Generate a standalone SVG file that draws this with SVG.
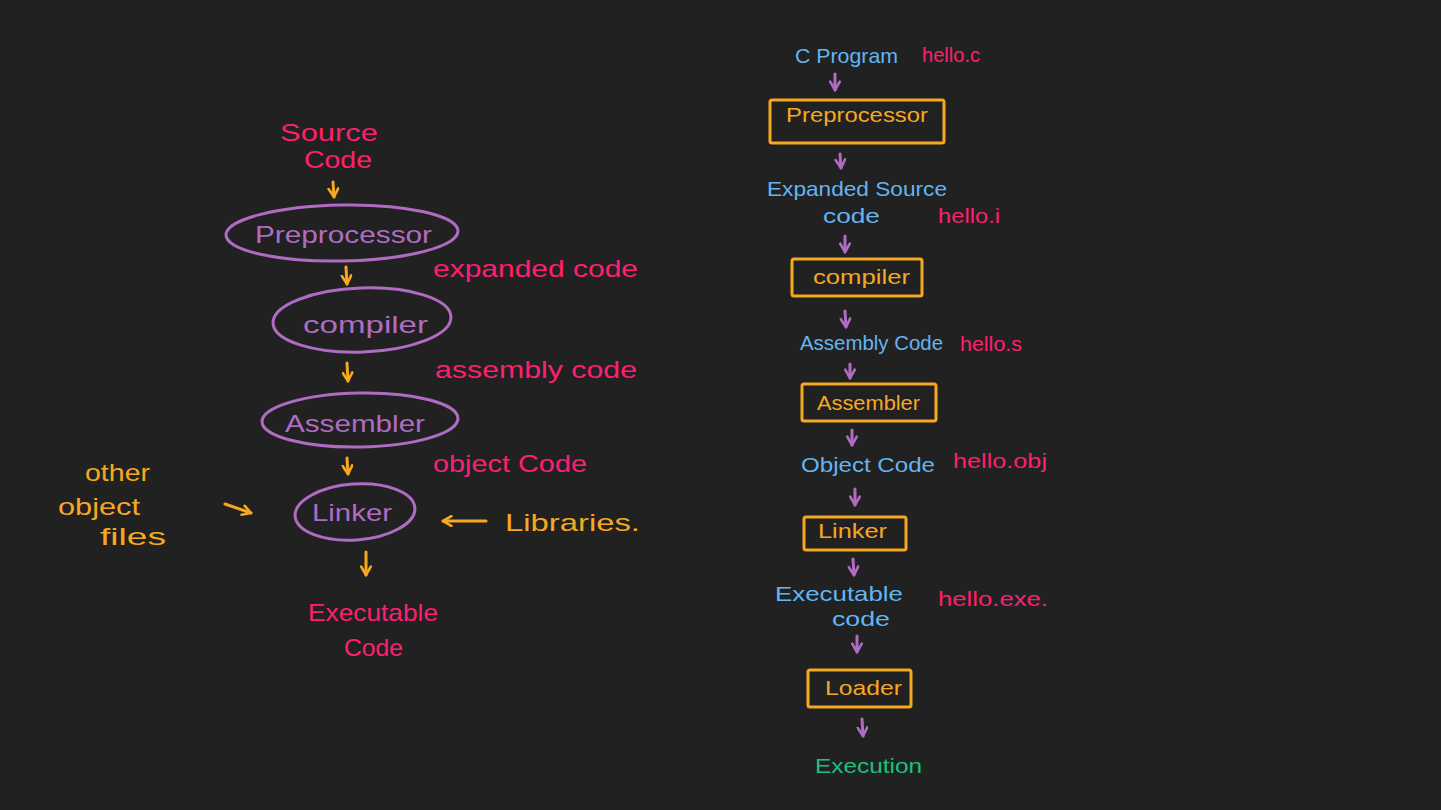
<svg xmlns="http://www.w3.org/2000/svg" width="1441" height="810" viewBox="0 0 1441 810">
<style>
text{font-family:"Liberation Sans","DejaVu Sans",sans-serif;font-size:21px;}
.big{font-size:24px;}
.pink{fill:#ff1f6f;}
.purple{fill:#b06cc2;}
.orange{fill:#f6a821;}
.blue{fill:#63b5f2;}
.green{fill:#1fc07c;}
.ell{fill:none;stroke:#b06cc2;stroke-width:3;}
.box{fill:none;stroke:#f6a821;stroke-width:3;}
.ao{fill:none;stroke:#f6a821;stroke-width:3;stroke-linecap:round;marker-end:url(#ho);}
.ap{fill:none;stroke:#b06cc2;stroke-width:3;stroke-linecap:round;marker-end:url(#hp);}
</style>
<defs>
<marker id="ho" viewBox="0 0 10 10" refX="8" refY="5" markerWidth="4" markerHeight="4" orient="auto" markerUnits="strokeWidth">
<path d="M1,1 L8,5 L1,9" fill="none" stroke="#f6a821" stroke-width="2.2" stroke-linecap="round" stroke-linejoin="round"/>
</marker>
<marker id="hp" viewBox="0 0 10 10" refX="8" refY="5" markerWidth="4" markerHeight="4" orient="auto" markerUnits="strokeWidth">
<path d="M1,1 L8,5 L1,9" fill="none" stroke="#b06cc2" stroke-width="2.2" stroke-linecap="round" stroke-linejoin="round"/>
</marker>
</defs>
<rect width="1441" height="810" fill="#212121"/>

<g id="connectors">
<path class="ao" d="M333 182 L334 197"/>
<path class="ao" d="M346 267 L347 284"/>
<path class="ao" d="M347 363 L348 381"/>
<path class="ao" d="M347 458 L348 474"/>
<path class="ao" d="M225 504 L251 513"/>
<path class="ao" d="M486 521 L443 521"/>
<path class="ao" d="M366 552 L366 575"/>
<path class="ap" d="M835 74 L835 90"/>
<path class="ap" d="M840 154 L841 168"/>
<path class="ap" d="M845 236 L845 252"/>
<path class="ap" d="M845 311 L846 327"/>
<path class="ap" d="M850 364 L850 378"/>
<path class="ap" d="M852 430 L852 445"/>
<path class="ap" d="M855 489 L855 505"/>
<path class="ap" d="M853 559 L854 575"/>
<path class="ap" d="M857 636 L857 652"/>
<path class="ap" d="M862 719 L863 736"/>
</g>

<g id="left-source">
<text class="big pink" x="280" y="141" textLength="98" lengthAdjust="spacingAndGlyphs">Source</text>
<text class="big pink" x="304" y="168" textLength="68" lengthAdjust="spacingAndGlyphs">Code</text>
</g>
<g id="left-preprocessor">
<ellipse class="ell" cx="342" cy="233" rx="116" ry="28" transform="rotate(-1 342 233)"/>
<text class="big purple" x="255" y="243" textLength="177" lengthAdjust="spacingAndGlyphs">Preprocessor</text>
</g>
<g id="left-expanded">
<text class="big pink" x="433" y="277" textLength="205" lengthAdjust="spacingAndGlyphs">expanded code</text>
</g>
<g id="left-compiler">
<ellipse class="ell" cx="362" cy="320" rx="89" ry="32" transform="rotate(-2 362 320)"/>
<text class="big purple" x="303" y="333" textLength="125" lengthAdjust="spacingAndGlyphs">compiler</text>
</g>
<g id="left-assembly">
<text class="big pink" x="435" y="378" textLength="202" lengthAdjust="spacingAndGlyphs">assembly code</text>
</g>
<g id="left-assembler">
<ellipse class="ell" cx="360" cy="420" rx="98" ry="27" transform="rotate(-1 360 420)"/>
<text class="big purple" x="285" y="432" textLength="140" lengthAdjust="spacingAndGlyphs">Assembler</text>
</g>
<g id="left-object">
<text class="big pink" x="433" y="472" textLength="154" lengthAdjust="spacingAndGlyphs">object Code</text>
</g>
<g id="left-other">
<text class="big orange" x="85" y="481" textLength="65" lengthAdjust="spacingAndGlyphs">other</text>
<text class="big orange" x="58" y="515" textLength="82" lengthAdjust="spacingAndGlyphs">object</text>
<text class="big orange" x="100" y="545" textLength="66" lengthAdjust="spacingAndGlyphs">files</text>
</g>
<g id="left-linker">
<ellipse class="ell" cx="355" cy="512" rx="60" ry="28" transform="rotate(-4 355 512)"/>
<text class="big purple" x="312" y="521" textLength="80" lengthAdjust="spacingAndGlyphs">Linker</text>
</g>
<g id="left-libraries">
<text class="big orange" x="505" y="531" textLength="135" lengthAdjust="spacingAndGlyphs">Libraries.</text>
</g>
<g id="left-executable">
<text class="big pink" x="308" y="621" textLength="130" lengthAdjust="spacingAndGlyphs">Executable</text>
<text class="big pink" x="344" y="656" textLength="59" lengthAdjust="spacingAndGlyphs">Code</text>
</g>

<g id="right-cprogram">
<text class="blue" x="795" y="63" textLength="103" lengthAdjust="spacingAndGlyphs">C Program</text>
<text class="pink" x="922" y="62" textLength="58" lengthAdjust="spacingAndGlyphs">hello.c</text>
</g>
<g id="right-preprocessor">
<rect class="box" x="770" y="100" width="174" height="43" rx="2"/>
<text class="orange" x="786" y="122" textLength="142" lengthAdjust="spacingAndGlyphs">Preprocessor</text>
</g>
<g id="right-expanded">
<text class="blue" x="767" y="196" textLength="180" lengthAdjust="spacingAndGlyphs">Expanded Source</text>
<text class="blue" x="823" y="223" textLength="57" lengthAdjust="spacingAndGlyphs">code</text>
<text class="pink" x="938" y="223" textLength="62" lengthAdjust="spacingAndGlyphs">hello.i</text>
</g>
<g id="right-compiler">
<rect class="box" x="792" y="259" width="130" height="37" rx="2"/>
<text class="orange" x="813" y="284" textLength="97" lengthAdjust="spacingAndGlyphs">compiler</text>
</g>
<g id="right-assembly">
<text class="blue" x="800" y="350" textLength="143" lengthAdjust="spacingAndGlyphs">Assembly Code</text>
<text class="pink" x="960" y="351" textLength="62" lengthAdjust="spacingAndGlyphs">hello.s</text>
</g>
<g id="right-assembler">
<rect class="box" x="802" y="384" width="134" height="37" rx="2"/>
<text class="orange" x="817" y="410" textLength="103" lengthAdjust="spacingAndGlyphs">Assembler</text>
</g>
<g id="right-object">
<text class="blue" x="801" y="472" textLength="134" lengthAdjust="spacingAndGlyphs">Object Code</text>
<text class="pink" x="953" y="468" textLength="94" lengthAdjust="spacingAndGlyphs">hello.obj</text>
</g>
<g id="right-linker">
<rect class="box" x="804" y="517" width="102" height="33" rx="2"/>
<text class="orange" x="818" y="538" textLength="69" lengthAdjust="spacingAndGlyphs">Linker</text>
</g>
<g id="right-executable">
<text class="blue" x="775" y="601" textLength="128" lengthAdjust="spacingAndGlyphs">Executable</text>
<text class="blue" x="832" y="626" textLength="58" lengthAdjust="spacingAndGlyphs">code</text>
<text class="pink" x="938" y="606" textLength="110" lengthAdjust="spacingAndGlyphs">hello.exe.</text>
</g>
<g id="right-loader">
<rect class="box" x="808" y="670" width="103" height="37" rx="2"/>
<text class="orange" x="825" y="695" textLength="77" lengthAdjust="spacingAndGlyphs">Loader</text>
</g>
<g id="right-execution">
<text class="green" x="815" y="773" textLength="107" lengthAdjust="spacingAndGlyphs">Execution</text>
</g>
</svg>
